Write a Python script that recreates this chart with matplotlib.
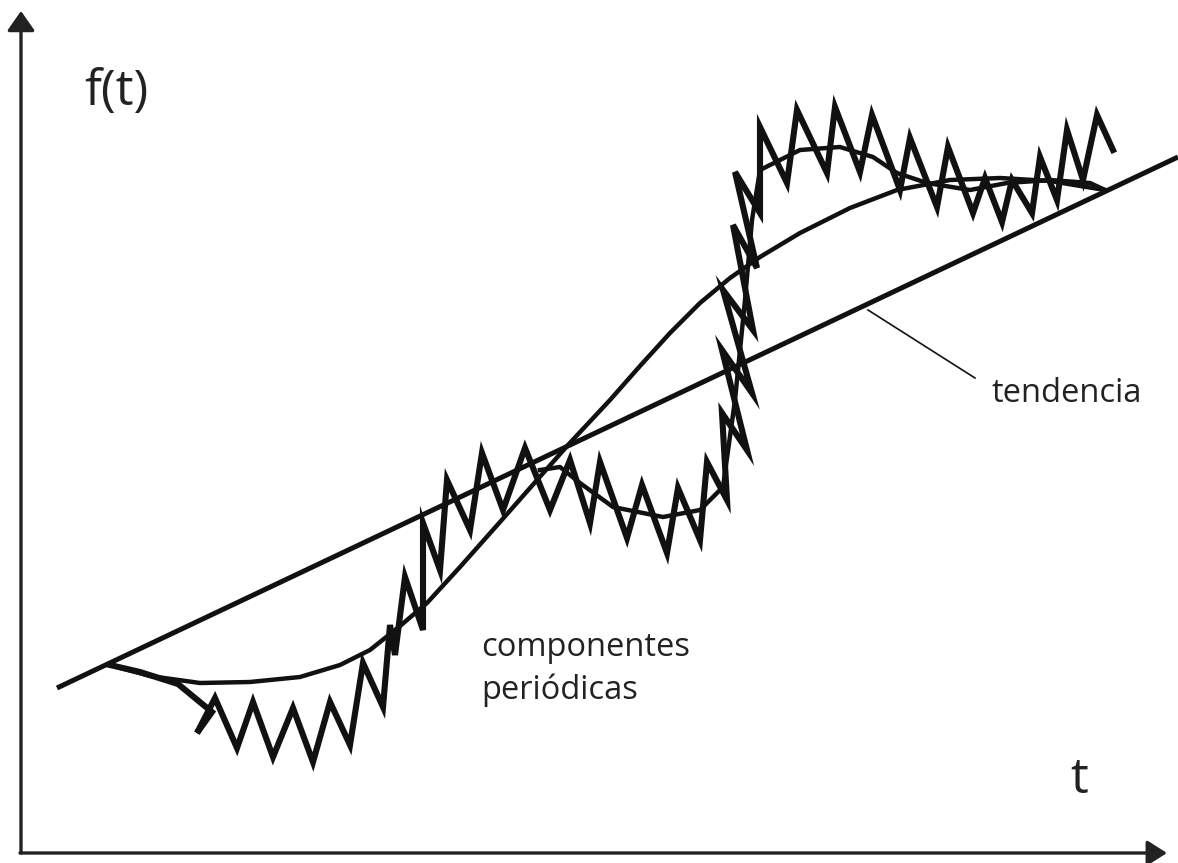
import matplotlib
matplotlib.use("Agg")
import matplotlib.pyplot as plt
import numpy as np

W, H = 1178, 863

# ---- data (t, and vertical position measured from top of picture) ----
trend_t = [57, 1178]
trend_y = [688, 157]

smooth_t = [110, 150, 200, 250, 300, 340, 370, 400, 427, 460, 500, 530, 568,
            610, 640, 670, 700, 730, 760, 800, 850, 897, 950, 1000, 1050, 1105]
smooth_y = [665, 676, 683, 682, 677, 665, 650, 626, 603, 567, 522, 488, 445,
            400, 366, 333, 303, 278, 257, 233, 208, 190, 180, 178, 181, 190]

base_t = [540, 560, 580, 613, 663, 700, 723, 735, 745, 752, 760, 800, 840,
          873, 897, 927, 970, 1007, 1050, 1090, 1105]
base_y = [470, 467, 483, 507, 517, 510, 487, 400, 300, 220, 170, 150, 147,
          157, 173, 183, 190, 183, 180, 183, 190]

zig_t = [110, 140, 178, 212, 197, 215, 237, 253, 273, 293, 313, 330, 350, 363,
         383, 390, 395, 405, 423, 423, 440, 447, 470, 482, 503, 525, 550, 570,
         590, 600, 627, 642, 667, 678, 700, 707, 727, 722, 747, 722, 752, 723,
         753, 733, 757, 735, 760, 760, 787, 797, 827, 835, 860, 872, 900, 910,
         937, 948, 973, 985, 1002, 1012, 1032, 1040, 1057, 1067, 1083, 1097,
         1113]
zig_y = [665, 672, 684, 712, 733, 698, 748, 702, 757, 708, 762, 702, 745, 663,
         707, 625, 655, 577, 630, 523, 570, 480, 530, 453, 510, 448, 510, 460,
         523, 462, 538, 485, 553, 488, 540, 462, 500, 413, 450, 350, 393, 290,
         330, 225, 268, 172, 213, 127, 183, 110, 173, 107, 172, 115, 190, 138,
         207, 147, 213, 178, 222, 180, 213, 157, 200, 130, 180, 115, 150]

pointer_t = [868, 975]
pointer_y = [310, 378]


def f(y):
    return H - np.asarray(y, dtype=float)


plt.rcParams['font.family'] = ['Open Sans', 'DejaVu Sans']

fig = plt.figure(figsize=(W / 100, H / 100), dpi=100)
ax = fig.add_axes([0, 0, 1, 1])
ax.set_xlim(0, W)
ax.set_ylim(0, H)
ax.axis('off')

ink = '#111111'
# axes with arrows
ax.annotate('', xy=(21, f(11)), xytext=(21, f(853)),
            arrowprops=dict(arrowstyle='-|>,head_length=0.6,head_width=0.42',
                            lw=2.4, color='#222222', mutation_scale=20,
                            shrinkA=0, shrinkB=0))
ax.annotate('', xy=(1167, f(853)), xytext=(20, f(853)),
            arrowprops=dict(arrowstyle='-|>,head_length=0.6,head_width=0.38',
                            lw=2.4, color='#222222', mutation_scale=20,
                            shrinkA=0, shrinkB=0))

ax.plot(trend_t, f(trend_y), color=ink, lw=3.6, solid_capstyle='butt')
ax.plot(smooth_t, f(smooth_y), color=ink, lw=3.2, solid_joinstyle='round')
ax.plot(base_t, f(base_y), color=ink, lw=3.2, solid_joinstyle='round')
ax.plot(zig_t, f(zig_y), color=ink, lw=4.4, solid_joinstyle='miter')
ax.plot(pointer_t, f(pointer_y), color=ink, lw=1.2)

txt = '#222222'
ax.text(84, f(92), 'f(t)', fontsize=36, color=txt, ha='left', va='center')
ax.text(1070, f(780), 't', fontsize=36, color=txt, ha='left', va='center')
ax.text(992, f(394), 'tendencia', fontsize=23.5, color=txt, ha='left', va='center')
ax.text(481, f(648), 'componentes', fontsize=23.5, color=txt, ha='left', va='center')
ax.text(481, f(690), 'periódicas', fontsize=23.5, color=txt, ha='left', va='center')

fig.savefig('out.png', dpi=100, facecolor='white')
